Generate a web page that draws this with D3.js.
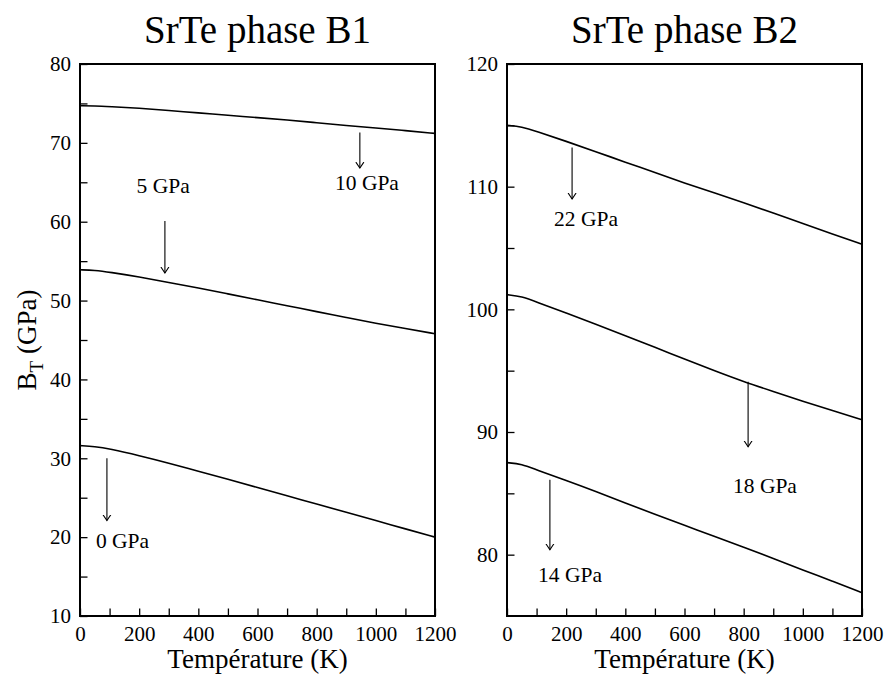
<!DOCTYPE html>
<html>
<head>
<meta charset="utf-8">
<script src="https://cdn.jsdelivr.net/npm/d3@7"></script>
<style>
  html, body { margin: 0; padding: 0; background: #fff; }
  svg { display: block; }
  svg text { font-family: "Liberation Serif", "Times New Roman", serif; fill: #000; }
</style>
</head>
<body>
<svg id="chart" width="889" height="674"></svg>
<script>
// Temperature grid (K)
const temps = [0, 50, 100, 200, 300, 400, 500, 600, 700, 800, 900, 1000, 1100, 1200];

// Isothermal bulk modulus B_T (GPa), phase B1
const b1_0GPa  = [31.6, 31.5, 31.2, 30.35, 29.4, 28.35, 27.35, 26.3, 25.25, 24.2, 23.15, 22.1, 21.05, 20.0];
const b1_5GPa  = [53.9, 53.85, 53.6, 53.0, 52.3, 51.6, 50.85, 50.1, 49.35, 48.6, 47.85, 47.1, 46.45, 45.8];
const b1_10GPa = [74.7, 74.7, 74.6, 74.4, 74.1, 73.8, 73.5, 73.2, 72.9, 72.55, 72.2, 71.9, 71.55, 71.2];

// Isothermal bulk modulus B_T (GPa), phase B2
const b2_14GPa = [87.5, 87.4, 86.9, 86.05, 85.15, 84.2, 83.3, 82.4, 81.5, 80.6, 79.7, 78.75, 77.85, 76.9];
const b2_18GPa = [101.2, 101.05, 100.6, 99.7, 98.8, 97.85, 96.9, 95.95, 95.0, 94.1, 93.3, 92.5, 91.75, 91.0];
const b2_22GPa = [115.0, 114.9, 114.5, 113.7, 112.85, 112.0, 111.15, 110.3, 109.5, 108.7, 107.85, 107.0, 106.15, 105.3];

// Pressure annotations: label, arrow temperature, arrow top / tip value, label position
const b1Notes = [
  { label: "0 GPa",  t: 91,  from: 30.0, to: 22.1, lt: 54,  lv: 18.6, anchor: "start" },
  { label: "5 GPa",  t: 287, from: 60.1, to: 53.5, lt: 281, lv: 63.6, anchor: "middle" },
  { label: "10 GPa", t: 946, from: 71.3, to: 66.8, lt: 970, lv: 64.0, anchor: "middle" }
];
const b2Notes = [
  { label: "22 GPa", t: 220, from: 113.2, to: 109.0, lt: 267, lv: 106.8, anchor: "middle" },
  { label: "18 GPa", t: 815, from: 94.1,  to: 88.8,  lt: 872, lv: 85.0,  anchor: "middle" },
  { label: "14 GPa", t: 145, from: 86.1,  to: 80.4,  lt: 213, lv: 77.8,  anchor: "middle" }
];

const xTicks = [0, 200, 400, 600, 800, 1000, 1200];
const xMinor = [100, 300, 500, 700, 900, 1100];
const b1YTicks = [10, 20, 30, 40, 50, 60, 70, 80];
const b1YMinor = [15, 25, 35, 45, 55, 65, 75];
const b2YTicks = [80, 90, 100, 110, 120];
const b2YMinor = [85, 95, 105, 115];

const panels = [
  { title: "SrTe phase B1", left: 80, right: 435, yDomain: [10, 80],
    yTicks: b1YTicks, yMinor: b1YMinor, series: [b1_0GPa, b1_5GPa, b1_10GPa], notes: b1Notes, ylabel: true },
  { title: "SrTe phase B2", left: 507, right: 862, yDomain: [75, 120],
    yTicks: b2YTicks, yMinor: b2YMinor, series: [b2_14GPa, b2_18GPa, b2_22GPa], notes: b2Notes, ylabel: false }
];

const plotTop = 64, plotBottom = 616, tickLen = 7.5;
const serif = "'Liberation Serif', 'Times New Roman', serif";
const svg = d3.select("#chart");

svg.append("defs").append("marker")
  .attr("id", "arrowhead")
  .attr("viewBox", "-6 -5 8 10")
  .attr("refX", 0).attr("refY", 0)
  .attr("markerWidth", 8).attr("markerHeight", 10)
  .attr("markerUnits", "userSpaceOnUse")
  .attr("orient", "auto")
  .append("path")
  .attr("d", "M-6,-4 L0,0 L-6,4")
  .attr("fill", "none").attr("stroke", "#000").attr("stroke-width", 1.1);

panels.forEach(p => {
  const x = d3.scaleLinear().domain([0, 1200]).range([p.left, p.right]);
  const y = d3.scaleLinear().domain(p.yDomain).range([plotBottom, plotTop]);
  const g = svg.append("g");
  const fmt = d3.format("d");

  // Axes with inward ticks, major and minor
  const xAxis = d3.axisBottom(x).tickValues(xTicks).tickFormat(fmt).tickSizeInner(-tickLen).tickSizeOuter(0).tickPadding(10);
  const xAxisMinor = d3.axisBottom(x).tickValues(xMinor).tickSizeInner(-tickLen).tickSizeOuter(0).tickFormat("");
  const yAxis = d3.axisLeft(y).tickValues(p.yTicks).tickFormat(fmt).tickSizeInner(-tickLen).tickSizeOuter(0).tickPadding(9);
  const yAxisMinor = d3.axisLeft(y).tickValues(p.yMinor).tickSizeInner(-tickLen).tickSizeOuter(0).tickFormat("");

  [[xAxis, `translate(0,${plotBottom})`], [xAxisMinor, `translate(0,${plotBottom})`],
   [yAxis, `translate(${p.left},0)`], [yAxisMinor, `translate(${p.left},0)`]].forEach(([ax, tr]) => {
    const a = g.append("g").attr("transform", tr).call(ax)
      .attr("font-family", serif).attr("font-size", 21);
    a.select(".domain").remove();
    a.selectAll(".tick line").attr("stroke", "#000").attr("stroke-width", 1.3);
    a.selectAll(".tick text").attr("fill", "#000");
  });

  // Frame
  g.append("rect")
    .attr("x", p.left).attr("y", plotTop)
    .attr("width", p.right - p.left).attr("height", plotBottom - plotTop)
    .attr("fill", "none").attr("stroke", "#000").attr("stroke-width", 2);

  // Curves
  const line = d3.line().x((d, i) => x(temps[i])).y(d => y(d)).curve(d3.curveBasis);
  p.series.forEach(s => {
    g.append("path").datum(s).attr("d", line)
      .attr("fill", "none").attr("stroke", "#000").attr("stroke-width", 1.6);
  });

  // Pressure labels with arrows
  p.notes.forEach(n => {
    g.append("line")
      .attr("x1", x(n.t)).attr("x2", x(n.t))
      .attr("y1", y(n.from)).attr("y2", y(n.to))
      .attr("stroke", "#000").attr("stroke-width", 1.1)
      .attr("marker-end", "url(#arrowhead)");
    g.append("text")
      .attr("x", x(n.lt)).attr("y", y(n.lv))
      .attr("text-anchor", n.anchor)
      .attr("font-size", 21.5)
      .text(n.label);
  });

  // Panel title
  g.append("text")
    .attr("x", (p.left + p.right) / 2).attr("y", 43)
    .attr("text-anchor", "middle")
    .attr("font-size", 39)
    .text(p.title);

  // X axis title
  g.append("text")
    .attr("x", (p.left + p.right) / 2).attr("y", 668)
    .attr("text-anchor", "middle")
    .attr("font-size", 27)
    .text("Température (K)");

  if (p.ylabel) {
    const t = g.append("text")
      .attr("transform", `translate(36,${(plotTop + plotBottom) / 2}) rotate(-90)`)
      .attr("text-anchor", "middle")
      .attr("font-size", 27);
    t.append("tspan").text("B");
    t.append("tspan").attr("dy", 7).attr("font-size", 19).text("T");
    t.append("tspan").attr("dy", -7).text(" (GPa)");
  }
});
</script>
</body>
</html>
